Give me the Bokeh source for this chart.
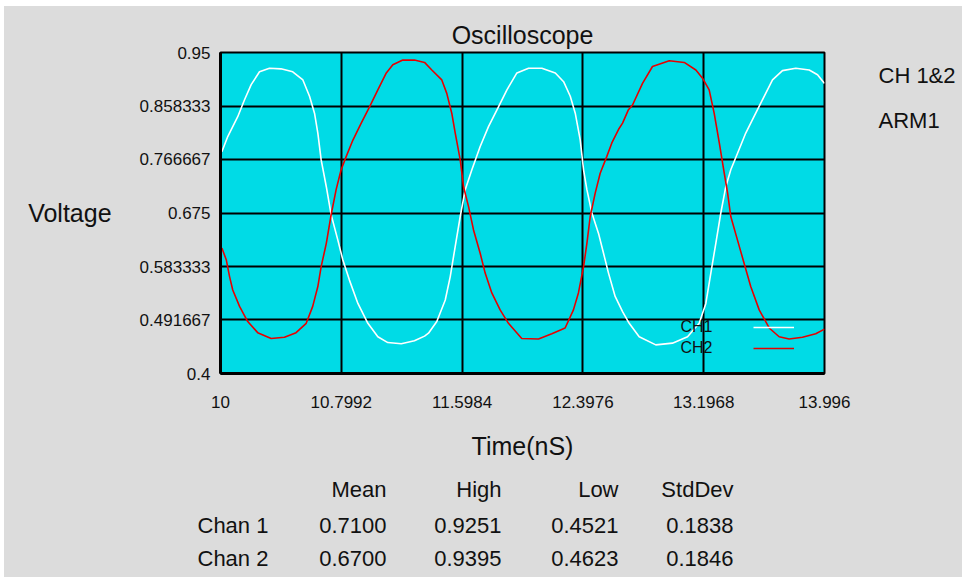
from bokeh.plotting import figure
from bokeh.models import (Range1d, FixedTicker, Label, Legend, LegendItem, Spacer)
from bokeh.layouts import column, row
from bokeh.core.properties import value
from bokeh.embed import file_html
from bokeh.resources import INLINE

# ---------------- data ----------------
ch1_time = [10.009, 10.048, 10.114, 10.159, 10.203, 10.258, 10.324, 10.40, 10.478, 10.545,
            10.589, 10.622, 10.644, 10.666, 10.70, 10.732, 10.776, 10.809, 10.853, 10.909,
            10.975, 11.041, 11.107, 11.196, 11.283, 11.35, 11.376, 11.431, 11.487, 11.520,
            11.553, 11.586, 11.619, 11.663, 11.718, 11.773, 11.839, 11.895, 11.961, 12.038,
            12.126, 12.215, 12.27, 12.314, 12.347, 12.380, 12.402, 12.424, 12.457, 12.501,
            12.534, 12.567, 12.611, 12.66, 12.704, 12.770, 12.880, 12.990, 13.09, 13.167,
            13.211, 13.244, 13.277, 13.310, 13.343, 13.376, 13.42, 13.475, 13.541, 13.597,
            13.652, 13.718, 13.806, 13.895, 13.95, 13.996]
ch1_volt = [0.780, 0.806, 0.840, 0.869, 0.895, 0.917, 0.923, 0.922, 0.917, 0.903,
            0.875, 0.846, 0.812, 0.766, 0.720, 0.672, 0.629, 0.595, 0.560, 0.520,
            0.486, 0.463, 0.453, 0.451, 0.456, 0.464, 0.469, 0.489, 0.526, 0.566,
            0.618, 0.669, 0.715, 0.749, 0.789, 0.823, 0.857, 0.886, 0.915, 0.923,
            0.923, 0.915, 0.900, 0.875, 0.846, 0.800, 0.749, 0.715, 0.675, 0.640,
            0.606, 0.572, 0.532, 0.506, 0.486, 0.463, 0.449, 0.452, 0.463, 0.486,
            0.520, 0.572, 0.623, 0.675, 0.720, 0.749, 0.777, 0.812, 0.846, 0.875,
            0.903, 0.919, 0.923, 0.920, 0.912, 0.897]

ch2_time = [10.009, 10.038, 10.06, 10.081, 10.126, 10.18, 10.246, 10.335, 10.423, 10.50,
            10.567, 10.61, 10.644, 10.666, 10.70, 10.732, 10.765, 10.798, 10.832, 10.876,
            10.931, 10.986, 11.041, 11.097, 11.14, 11.206, 11.283, 11.35, 11.398, 11.464,
            11.497, 11.53, 11.553, 11.586, 11.608, 11.641, 11.674, 11.718, 11.751, 11.795,
            11.85, 11.905, 11.993, 12.104, 12.192, 12.28, 12.335, 12.368, 12.402, 12.424,
            12.446, 12.479, 12.512, 12.556, 12.589, 12.633, 12.66, 12.699, 12.726, 12.792,
            12.858, 12.969, 13.068, 13.145, 13.189, 13.233, 13.266, 13.30, 13.333, 13.355,
            13.376, 13.42, 13.464, 13.508, 13.564, 13.630, 13.696, 13.762, 13.85, 13.938,
            13.996]
ch2_volt = [0.615, 0.595, 0.566, 0.543, 0.515, 0.489, 0.470, 0.460, 0.462, 0.470,
            0.486, 0.515, 0.549, 0.583, 0.623, 0.672, 0.715, 0.749, 0.772, 0.800,
            0.829, 0.857, 0.886, 0.915, 0.929, 0.937, 0.937, 0.933, 0.920, 0.903,
            0.880, 0.846, 0.812, 0.766, 0.720, 0.686, 0.646, 0.606, 0.572, 0.538,
            0.509, 0.486, 0.460, 0.459, 0.468, 0.478, 0.509, 0.538, 0.583, 0.623,
            0.669, 0.709, 0.743, 0.772, 0.795, 0.818, 0.829, 0.852, 0.860, 0.897,
            0.926, 0.936, 0.933, 0.920, 0.906, 0.886, 0.846, 0.795, 0.743, 0.709,
            0.669, 0.629, 0.589, 0.549, 0.509, 0.478, 0.463, 0.459, 0.462, 0.468,
            0.476]

x_ticks = [10, 10.7992, 11.5984, 12.3976, 13.1968, 13.996]
x_tick_labels = ["10", "10.7992", "11.5984", "12.3976", "13.1968", "13.996"]
y_ticks = [0.4, 0.491667, 0.583333, 0.675, 0.766667, 0.858333, 0.95]
y_tick_labels = ["0.4", "0.491667", "0.583333", "0.675", "0.766667", "0.858333", "0.95"]

channel_names = ["CH1", "CH2"]
stat_headers = ["Mean", "High", "Low", "StdDev"]
stat_rows = ["Chan 1", "Chan 2"]
chan1_stats = ["0.7100", "0.9251", "0.4521", "0.1838"]
chan2_stats = ["0.6700", "0.9395", "0.4623", "0.1846"]
side_notes = ["CH 1&2", "ARM1"]

# ---------------- styling ----------------
FONT = "Liberation Sans"
BG = "#dcdcdc"
CYAN = "#00dbe6"
TXT = "#111111"

FULL_W = 958
MAIN_W, MAIN_H = 856, 468
FRAME_W, FRAME_H = 604, 321
TABLE_H = 103
Y0, Y1 = 0.4, 0.95

p = figure(width=MAIN_W, height=MAIN_H, output_backend="svg", toolbar_location=None,
           x_range=Range1d(10, 13.996), y_range=Range1d(Y0, Y1),
           min_border_left=216, min_border_right=MAIN_W - 216 - FRAME_W, min_border_top=46,
           min_border_bottom=MAIN_H - 46 - FRAME_H, title="Oscilloscope")

p.background_fill_color = CYAN
p.border_fill_color = BG
p.outline_line_color = "black"
p.outline_line_width = 2

p.title.align = "center"
p.title.text_font = FONT
p.title.text_font_size = "25px"
p.title.text_font_style = "normal"
p.title.text_color = TXT
p.title.standoff = 7

xa = p.xaxis[0]
xa.ticker = FixedTicker(ticks=x_ticks)
xa.major_label_overrides = dict(zip(x_ticks, x_tick_labels))
ya = p.yaxis[0]
ya.ticker = FixedTicker(ticks=y_ticks)
ya.major_label_overrides = dict(zip(y_ticks, y_tick_labels))

for ax in (xa, ya):
    ax.major_tick_out = 0
    ax.major_tick_in = 0
    ax.minor_tick_out = 0
    ax.minor_tick_in = 0
    ax.axis_line_color = "black"
    ax.axis_line_width = 3
    ax.major_label_text_font = FONT
    ax.major_label_text_font_size = "17px"
    ax.major_label_text_color = TXT
    ax.axis_label_text_font = FONT
    ax.axis_label_text_font_size = "25px"
    ax.axis_label_text_font_style = "normal"
    ax.axis_label_text_color = TXT

xa.axis_label = "Time(nS)"
xa.major_label_standoff = 22
xa.axis_label_standoff = 21
ya.axis_label = "Voltage"
ya.axis_label_orientation = "horizontal"
ya.major_label_standoff = 10
ya.axis_label_standoff = 25

p.xgrid.ticker = FixedTicker(ticks=x_ticks)
p.ygrid.ticker = FixedTicker(ticks=y_ticks)
for g in (p.xgrid[0], p.ygrid[0]):
    g.grid_line_color = "black"
    g.grid_line_width = 2
    g.grid_line_alpha = 1

r1 = p.line(ch1_time, ch1_volt, line_color="white", line_width=1.6)
r2 = p.line(ch2_time, ch2_volt, line_color="#e60000", line_width=1.6)

# legend: line samples (their names are drawn to the left, as in the reference)
legend = Legend(items=[LegendItem(label="", renderers=[r1]),
                       LegendItem(label="", renderers=[r2])],
                location=(533, 16), orientation="vertical",
                glyph_width=41, glyph_height=18, label_height=18, spacing=3,
                label_standoff=0, padding=0, margin=0,
                label_text_font_size="1px",
                background_fill_alpha=0, border_line_alpha=0)
p.add_layout(legend, "center")
for name, yy in zip(channel_names, [47, 26]):
    p.add_layout(Label(x=460, y=yy, x_units="screen", y_units="screen", text=name,
                       text_font=FONT, text_font_size="16px", text_color=TXT,
                       text_baseline="middle", text_align="left"))

# ---- side notes panel (right of the scope; its frame lines up with the scope frame) ----
NOTES_W = FULL_W - MAIN_W
pn = figure(width=NOTES_W, height=MAIN_H, output_backend="svg", toolbar_location=None,
            x_range=Range1d(0, NOTES_W), y_range=p.y_range, min_border=0)
pn.axis.visible = False
pn.grid.visible = False
pn.outline_line_color = None
pn.background_fill_color = BG
pn.border_fill_color = BG
note_px_below_top = [23, 68]
note_y = [Y1 - d * (Y1 - Y0) / FRAME_H for d in note_px_below_top]
pn.text(x=[18, 18], y=note_y, text=side_notes, text_font=value(FONT),
        text_font_size="22px", text_color=TXT, text_baseline="middle", text_align="left")

# ---- statistics table panel (below the scope) ----
pt = figure(width=FULL_W, height=TABLE_H, output_backend="svg", toolbar_location=None,
            x_range=Range1d(0, FULL_W), y_range=Range1d(TABLE_H, 0), min_border=0)
pt.axis.visible = False
pt.grid.visible = False
pt.outline_line_color = None
pt.background_fill_color = BG
pt.border_fill_color = BG

col_right = [382, 497, 614, 729]
row_y = [15, 51, 84]
cells_x, cells_y, cells_t = [], [], []
for txt, cx in zip(stat_headers, col_right):
    cells_x.append(cx); cells_y.append(row_y[0]); cells_t.append(txt)
for vals, yy in zip([chan1_stats, chan2_stats], row_y[1:]):
    for v, cx in zip(vals, col_right):
        cells_x.append(cx); cells_y.append(yy); cells_t.append(v)
pt.text(x=cells_x, y=cells_y, text=cells_t, text_font=value(FONT), text_font_size="22px",
        text_color=TXT, text_baseline="middle", text_align="right")
pt.text(x=[193, 193], y=row_y[1:], text=stat_rows, text_font=value(FONT),
        text_font_size="22px", text_color=TXT, text_baseline="middle", text_align="left")

bg_style = {"background-color": BG}
inner = column(row(p, pn, styles=bg_style), pt, styles=bg_style)
layout = column(Spacer(height=6), row(Spacer(width=4), inner))

open("out.html", "w").write(file_html(layout, INLINE))
